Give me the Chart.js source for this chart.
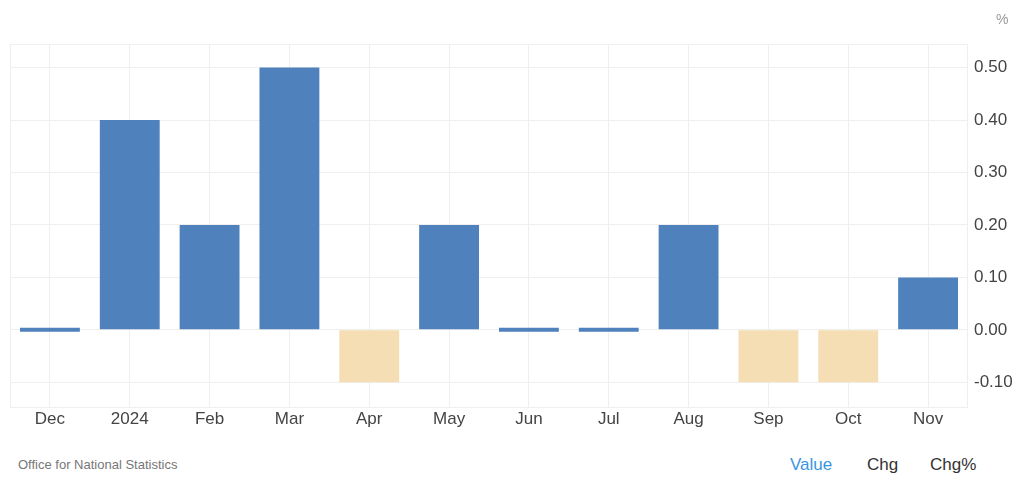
<!DOCTYPE html>
<html>
<head>
<meta charset="utf-8">
<script src="https://cdn.jsdelivr.net/npm/chart.js@4.4.0/dist/chart.umd.min.js"></script>
<style>
  html, body { margin:0; padding:0; background:#fff; width:1024px; height:482px; overflow:hidden; font-family:"Liberation Sans", Arial, sans-serif; }
  #wrap { position:absolute; left:0; top:0; width:1024px; height:440px; }
  .unit { position:absolute; left:996px; top:11px; font-size:14px; color:#999; }
  .source { position:absolute; left:18px; top:457px; font-size:13px; color:#777; }
  .tabs { position:absolute; top:455px; font-size:17px; color:#333; }
</style>
</head>
<body>
<div id="wrap"><canvas id="c"></canvas></div>
<div class="unit">%</div>
<div class="source">Office for National Statistics</div>
<div class="tabs" style="left:790px;color:#3a95e0">Value</div>
<div class="tabs" style="left:867px">Chg</div>
<div class="tabs" style="left:930px">Chg%</div>
<script>
const months = ['Dec', '2024', 'Feb', 'Mar', 'Apr', 'May', 'Jun', 'Jul', 'Aug', 'Sep', 'Oct', 'Nov'];
const values = [0.0, 0.4, 0.2, 0.5, -0.1, 0.2, 0.0, 0.0, 0.2, -0.1, -0.1, 0.1];
const yTicks = [-0.1, 0, 0.1, 0.2, 0.3, 0.4, 0.5];

const BLUE = '#4f81bd';
const BEIGE = '#f5deb3';
const GRID = '#efefef';

// light frame round the plot area
const frame = {
  id: 'frame',
  beforeDatasetsDraw(chart) {
    const a = chart.chartArea, ctx = chart.ctx;
    ctx.save();
    ctx.strokeStyle = GRID;
    ctx.lineWidth = 1;
    ctx.strokeRect(a.left + 0.5, a.top + 0.5, a.right - a.left - 1, a.bottom - a.top - 1);
    ctx.restore();
  }
};

new Chart(document.getElementById('c'), {
  type: 'bar',
  data: {
    labels: months,
    datasets: [{
      data: values,
      backgroundColor: values.map(v => v < 0 ? BEIGE : BLUE),
      borderWidth: 0,
      minBarLength: 4,
      barPercentage: 0.75,
      categoryPercentage: 1
    }]
  },
  options: {
    responsive: true,
    maintainAspectRatio: false,
    animation: false,
    layout: { padding: { top: 44, left: 10, right: 0, bottom: 0 } },
    plugins: { legend: { display: false }, tooltip: { enabled: false } },
    scales: {
      x: {
        offset: true,
        grid: { offset: false, color: GRID, drawTicks: false },
        border: { display: false },
        ticks: { color: '#444', font: { size: 17, family: '"Liberation Sans", Arial' }, padding: 1 },
        afterFit(s) { s.height = 32; }
      },
      y: {
        position: 'right',
        min: -0.149,
        max: 0.545,
        grid: { color: GRID, drawTicks: false },
        border: { display: false },
        afterBuildTicks(s) { s.ticks = yTicks.map(v => ({ value: v })); },
        ticks: {
          color: '#444',
          font: { size: 17, family: '"Liberation Sans", Arial' },
          padding: 6,
          callback: v => v.toFixed(2)
        },
        afterFit(s) { s.width = 56; }
      }
    }
  },
  plugins: [frame]
});
</script>
</body>
</html>
